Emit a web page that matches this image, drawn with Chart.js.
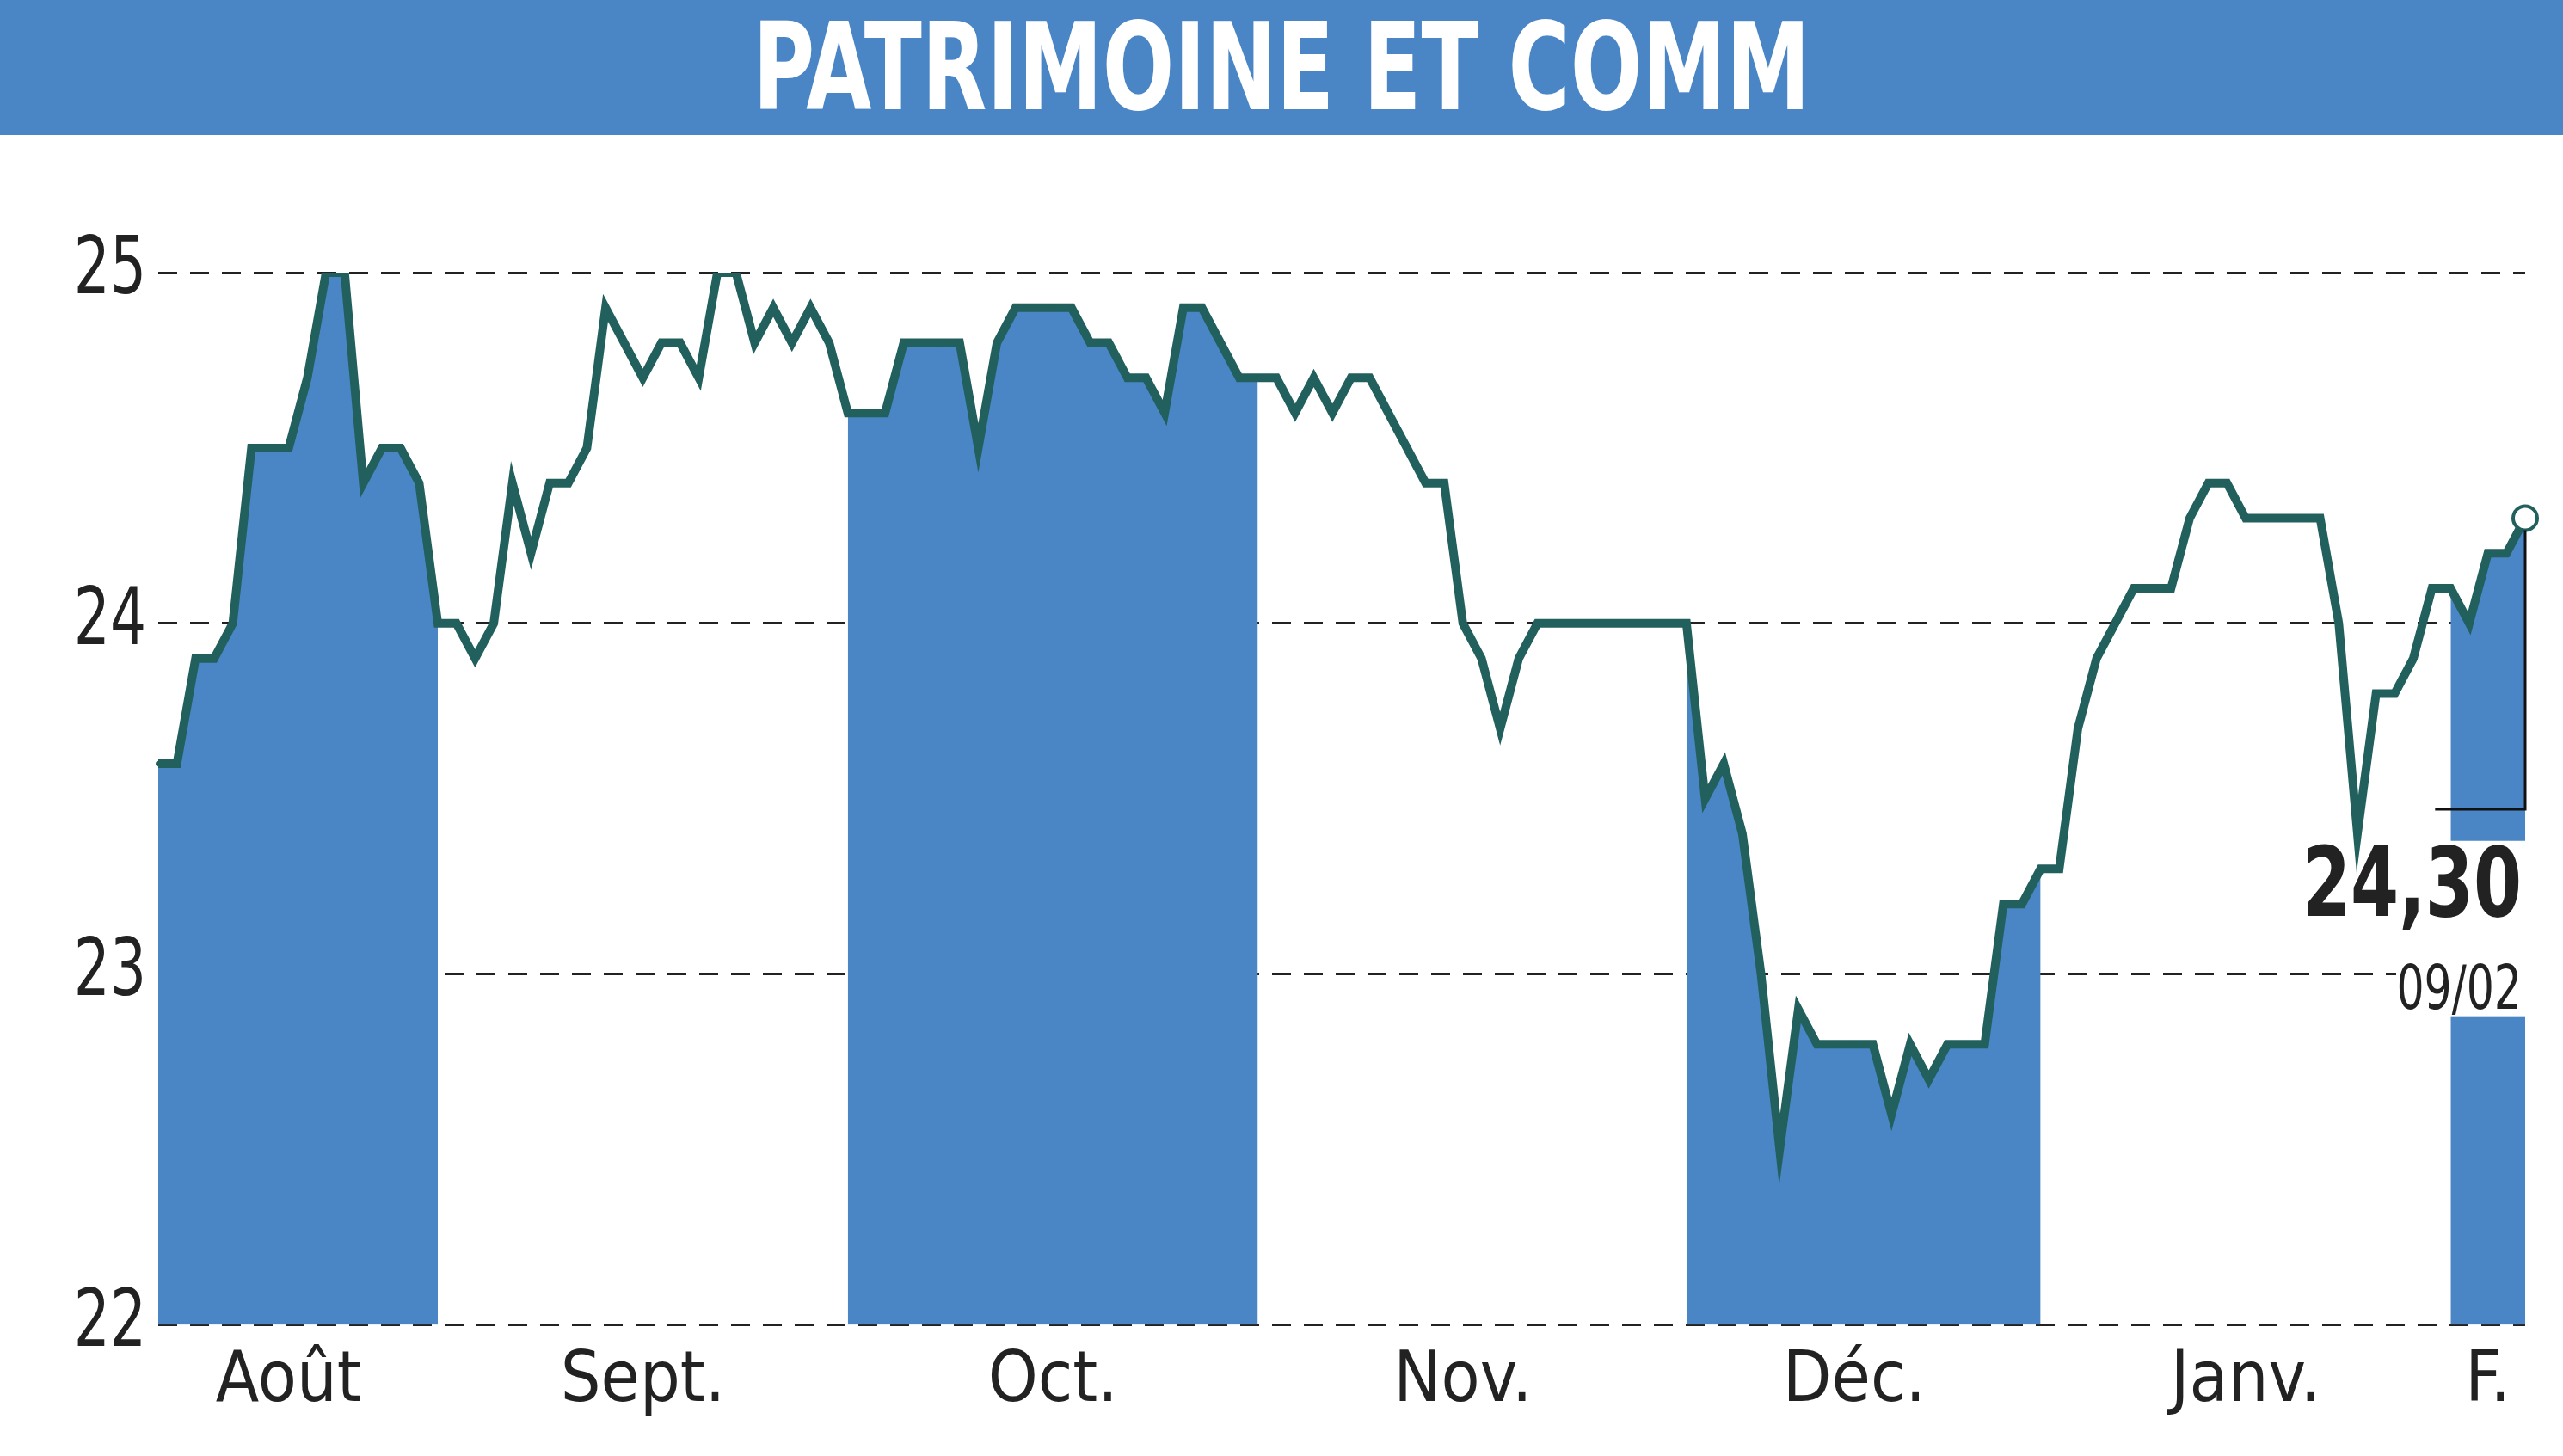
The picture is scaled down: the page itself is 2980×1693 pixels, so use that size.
<!DOCTYPE html>
<html><head><meta charset="utf-8">
<script src="https://cdn.jsdelivr.net/npm/chart.js@4.4.1/dist/chart.umd.min.js"></script>
<style>
html,body{margin:0;padding:0;background:#fff;width:2980px;height:1693px;overflow:hidden}
#title{height:157px;background:#4a86c5;}
#title span{display:block;color:#fff;font-family:'DejaVu Sans Condensed','DejaVu Sans',sans-serif;font-stretch:condensed;font-weight:bold;font-size:140px;line-height:157px;text-align:center;transform:scaleX(0.78);transform-origin:center}
#wrap{position:absolute;top:157px;left:0;width:2980px;height:1536px}
</style></head><body>
<div id="title"><span>PATRIMOINE ET COMM</span></div>
<div id="wrap"><canvas id="c" width="2980" height="1536"></canvas></div>
<script>
const monthNames=['Août','Sept.','Oct.','Nov.','Déc.','Janv.','F.'];
const aug=[23.6,23.6,23.9,23.9,24.0,24.5,24.5,24.5,24.7,25.0,25.0,24.4,24.5,24.5,24.4,24.0];
const sep=[24.0,23.9,24.0,24.4,24.2,24.4,24.4,24.5,24.9,24.8,24.7,24.8,24.8,24.7,25.0,25.0,24.8,24.9,24.8,24.9,24.8];
const oct=[24.6,24.6,24.6,24.8,24.8,24.8,24.8,24.5,24.8,24.9,24.9,24.9,24.9,24.8,24.8,24.7,24.7,24.6,24.9,24.9,24.8,24.7,24.7];
const nov=[24.7,24.6,24.7,24.6,24.7,24.7,24.6,24.5,24.4,24.4,24.0,23.9,23.7,23.9,24.0,24.0,24.0,24.0,24.0,24.0,24.0,24.0];
const dec=[24.0,23.5,23.6,23.4,23.0,22.5,22.9,22.8,22.8,22.8,22.8,22.6,22.8,22.7,22.8,22.8,22.8,23.2,23.2,23.3];
const jan=[23.3,23.7,23.9,24.0,24.1,24.1,24.1,24.3,24.4,24.4,24.3,24.3,24.3,24.3,24.3,24.0,23.4,23.8,23.8,23.9,24.1];
const feb=[24.1,24.0,24.2,24.2,24.3];
const yTicks=[22,23,24,25];
const lastLabel='24,30', lastDate='09/02';

const months=[aug,sep,oct,nov,dec,jan,feb];
const values=[],fillVals=[],labels=[];
months.forEach((m,mi)=>m.forEach(v=>{values.push(v);fillVals.push(mi%2===0?v:null);labels.push('');}));
const mid={};months.reduce((s,m,mi)=>{mid[s+Math.floor((m.length-1)/2)]=monthNames[mi];return s+m.length;},0);
const F="'DejaVu Sans Condensed','DejaVu Sans',sans-serif";
const N=values.length;
const anno={id:'anno',afterDatasetsDraw(ch){
  const c=ch.ctx,xs=ch.scales.x,ys=ch.scales.y;
  const px=xs.getPixelForValue(N-1),py=ys.getPixelForValue(values[N-1]);
  const fx=xs.getPixelForValue(N-feb.length);
  c.save();
  const t=ys.getPixelForValue(23.38),b=ys.getPixelForValue(22.88);
  c.fillStyle='#fff';c.fillRect(px-150,t,190,b-t);
  c.strokeStyle='#111';c.lineWidth=3;c.beginPath();c.moveTo(px,py+14);c.lineTo(px,ys.getPixelForValue(23.47));c.lineTo(fx-18,ys.getPixelForValue(23.47));c.stroke();
  c.fillStyle='#222';c.textAlign='right';c.textBaseline='alphabetic';
  c.save();c.translate(px-4,ys.getPixelForValue(23.26)+38);c.scale(0.8,1);
  c.font='bold 112px '+F;c.fillText(lastLabel,0,0);c.restore();
  c.save();c.translate(px-4,ys.getPixelForValue(22.97)+28);c.scale(0.78,1);
  c.font='72px '+F;c.fillText(lastDate,0,0);c.restore();
  c.restore();
}};
const yLab={id:'ylab',afterDraw(ch){
  const c=ch.ctx,ys=ch.scales.y;c.save();c.fillStyle='#222';c.textAlign='right';c.textBaseline='middle';
  yTicks.forEach(v=>{c.save();c.translate(170,ys.getPixelForValue(v));c.scale(0.8,1);c.font='92px '+F;c.fillText(String(v),0,0);c.restore();});
  c.restore();}};
new Chart(document.getElementById('c'),{
 type:'line',
 data:{labels,datasets:[
  {data:values,borderColor:'#22605d',borderWidth:10,pointRadius:values.map((v,i)=>i===N-1?14:3),pointBackgroundColor:values.map((v,i)=>i===N-1?'#fff':'#22605d'),pointBorderColor:'#22605d',pointBorderWidth:values.map((v,i)=>i===N-1?4:0),tension:0,fill:false,order:0},
  {data:fillVals,borderWidth:0,pointRadius:0,backgroundColor:'#4a86c5',fill:'start',spanGaps:false,order:1}
 ]},
 options:{responsive:false,animation:false,devicePixelRatio:1,
  layout:{padding:{top:160,right:44,left:0,bottom:26}},
  plugins:{legend:{display:false},tooltip:{enabled:false}},
  scales:{
   x:{offset:false,grid:{display:false},border:{display:false},
      ticks:{autoSkip:false,maxRotation:0,color:'#222',font:{family:F,size:82},padding:10,callback:(v,i)=>mid[i]||''}},
   y:{min:22,max:25,afterFit(s){s.width=184;},border:{display:false,dash:[22,15]},
      afterBuildTicks(s){s.ticks=yTicks.map(v=>({value:v}));},
      grid:{color:'#222',lineWidth:3,drawTicks:false},
      ticks:{display:false}}
  }}
 ,plugins:[anno,yLab]
});
</script></body></html>
